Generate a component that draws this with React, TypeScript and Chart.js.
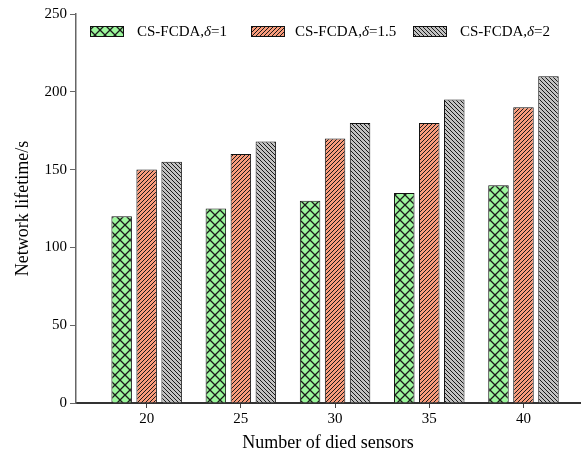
import React, { useEffect, useRef } from 'react';
import { Chart, registerables } from 'chart.js';

Chart.register(...registerables);

const diedSensors = [20, 25, 30, 35, 40];
const lifetimeDelta1 = [120, 125, 130, 135, 140];
const lifetimeDelta15 = [150, 160, 170, 180, 190];
const lifetimeDelta2 = [155, 168, 180, 195, 210];
const seriesNames = ['CS-FCDA,δ=1', 'CS-FCDA,δ=1.5', 'CS-FCDA,δ=2'];
const xTickValues = [20, 25, 30, 35, 40];
const xTitle = 'Number of died sensors';
const yTitle = 'Network lifetime/s';

const FONT = "'Liberation Serif', 'Times New Roman', serif";

function makePattern(kind: string, color: string): CanvasPattern | string {
  const c = document.createElement('canvas');
  const s = kind === 'cross' ? 10 : 4;
  c.width = s;
  c.height = s;
  const g = c.getContext('2d');
  if (!g) return color;
  g.fillStyle = color;
  g.fillRect(0, 0, s, s);
  g.strokeStyle = '#1a1a1a';
  g.lineWidth = kind === 'cross' ? 1.3 : 1;
  g.beginPath();
  if (kind === 'cross') {
    g.moveTo(0, 0); g.lineTo(s, s);
    g.moveTo(s, 0); g.lineTo(0, s);
  } else if (kind === 'fwd') {
    g.moveTo(-1, s + 1); g.lineTo(s + 1, -1);
    g.moveTo(-1, 1); g.lineTo(1, -1);
    g.moveTo(s - 1, s + 1); g.lineTo(s + 1, s - 1);
  } else {
    g.moveTo(-1, -1); g.lineTo(s + 1, s + 1);
    g.moveTo(s - 1, -1); g.lineTo(s + 1, 1);
    g.moveTo(-1, s - 1); g.lineTo(1, s + 1);
  }
  g.stroke();
  const p = g.createPattern(c, 'repeat');
  return p || color;
}

const legendPlugin = {
  id: 'customLegend',
  afterDraw(chart: any) {
    const ctx = chart.ctx as CanvasRenderingContext2D;
    const left = chart.chartArea.left;
    const top = chart.chartArea.top;
    const offsets = [
      { bx: 14, tx: 61 },
      { bx: 175, tx: 219 },
      { bx: 337, tx: 384 },
    ];
    ctx.save();
    chart.data.datasets.forEach((ds: any, i: number) => {
      const o = offsets[i];
      const bx = left + o.bx;
      const by = top + 12;
      ctx.fillStyle = ds.backgroundColor;
      ctx.fillRect(bx, by, 34, 11);
      ctx.strokeStyle = '#111';
      ctx.lineWidth = 1;
      ctx.strokeRect(bx + 0.5, by + 0.5, 33, 10);
      const name: string = ds.label;
      const idx = name.indexOf('δ');
      const p1 = name.slice(0, idx);
      const p3 = name.slice(idx + 1);
      ctx.fillStyle = '#000';
      ctx.textBaseline = 'middle';
      ctx.textAlign = 'left';
      let x = left + o.tx;
      const y = by + 6;
      ctx.font = `15px ${FONT}`;
      ctx.fillText(p1, x, y);
      x += ctx.measureText(p1).width;
      ctx.font = `italic 15px ${FONT}`;
      ctx.fillText('δ', x, y);
      x += ctx.measureText('δ').width;
      ctx.font = `15px ${FONT}`;
      ctx.fillText(p3, x, y);
    });
    ctx.restore();
  },
};

export default function App() {
  const ref = useRef<HTMLCanvasElement | null>(null);

  useEffect(() => {
    if (!ref.current) return;
    const toPts = (vals: number[]) => diedSensors.map((x, i) => ({ x, y: vals[i] }));
    const common = {
      borderColor: '#111',
      borderWidth: 1,
      barPercentage: 0.82,
      categoryPercentage: 0.796,
    };
    const chart = new Chart(ref.current, {
      type: 'bar',
      data: {
        datasets: [
          { label: seriesNames[0], data: toPts(lifetimeDelta1), backgroundColor: makePattern('cross', '#9cf79c'), ...common },
          { label: seriesNames[1], data: toPts(lifetimeDelta15), backgroundColor: makePattern('fwd', '#f99c7c'), ...common },
          { label: seriesNames[2], data: toPts(lifetimeDelta2), backgroundColor: makePattern('back', '#c2c2c2'), ...common },
        ] as any,
      },
      options: {
        animation: false,
        responsive: false,
        layout: { padding: { top: 14, right: 3, left: 0, bottom: 0 } },
        plugins: { legend: { display: false }, tooltip: { enabled: false } },
        scales: {
          x: {
            type: 'linear',
            min: 16.25,
            max: 43,
            offset: false,
            afterBuildTicks: (scale: any) => {
              scale.ticks = xTickValues.map((v) => ({ value: v }));
            },
            afterFit: (scale: any) => {
              scale.height = 51;
            },
            grid: { display: true, offset: false, drawOnChartArea: false, drawTicks: true, tickLength: 5, color: '#444' },
            border: { display: true, color: '#333', width: 2 },
            ticks: { color: '#000', font: { family: FONT, size: 15 }, padding: 2, autoSkip: false, maxRotation: 0 },
            title: { display: true, text: xTitle, color: '#000', font: { family: FONT, size: 18 }, padding: { top: 0, bottom: 0 } },
          },
          y: {
            type: 'linear',
            min: 0,
            max: 250,
            ticks: { stepSize: 50, color: '#000', font: { family: FONT, size: 15 }, padding: 3 },
            afterFit: (scale: any) => {
              scale.width = 76;
            },
            grid: { display: true, drawOnChartArea: false, drawTicks: true, tickLength: 6, color: '#666' },
            border: { display: true, color: '#666', width: 1.5 },
            title: { display: true, text: yTitle, color: '#000', font: { family: FONT, size: 18 }, padding: { top: 12, bottom: 0 } },
          },
        },
      } as any,
      plugins: [legendPlugin],
    });
    return () => chart.destroy();
  }, []);

  return (
    <div style={{ position: 'absolute', left: 0, top: 0, width: 583, height: 454, background: '#fff' }}>
      <canvas ref={ref} width={583} height={454} style={{ display: 'block' }} />
    </div>
  );
}
